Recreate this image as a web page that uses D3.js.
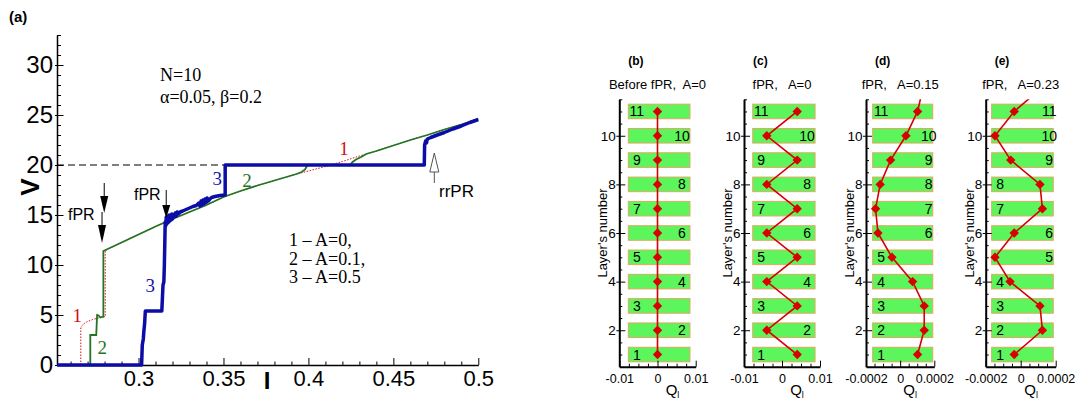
<!DOCTYPE html>
<html lang="en">
<head>
<meta charset="utf-8">
<title>V(I) curves and layer charges</title>
<script src="https://d3js.org/d3.v7.min.js"></script>
<style>
  body { margin: 0; background: #fff; }
  svg { display: block; }
  text { font-family: "Liberation Sans", Arial, sans-serif; }
</style>
</head>
<body>
<script>
// ---------- panel (a): V(I) curves ----------
var redI = [0.266, 0.266, 0.2665, 0.268, 0.270, 0.273, 0.2765, 0.2804, 0.2804, 0.29, 0.30, 0.31, 0.32, 0.33, 0.34, 0.35, 0.36, 0.37, 0.38, 0.39, 0.40, 0.41, 0.42, 0.43, 0.44, 0.45, 0.46, 0.47, 0.48, 0.49, 0.50]
var redV = [0, 3.7, 3.9, 4.15, 4.35, 4.55, 4.7, 4.85, 11.45, 12.25, 13.05, 13.85, 14.6, 15.3, 16.0, 16.8, 17.4, 17.95, 18.45, 18.95, 19.4, 19.85, 20.35, 20.9, 21.4, 21.95, 22.5, 23.0, 23.55, 24.05, 24.6]

var greenI = [0.252, 0.2716, 0.2716, 0.2751, 0.2756, 0.2765, 0.2775, 0.2793, 0.2793, 0.29, 0.30, 0.31, 0.32, 0.33, 0.34, 0.35, 0.36, 0.37, 0.38, 0.39, 0.393, 0.396, 0.398, 0.3995, 0.4245, 0.426, 0.428, 0.431, 0.434, 0.44, 0.45, 0.46, 0.47, 0.48, 0.49, 0.50]
var greenV = [0, 0, 3.0, 3.0, 5.0, 4.95, 4.75, 4.85, 11.4, 12.25, 13.05, 13.85, 14.6, 15.3, 16.0, 16.8, 17.4, 17.95, 18.45, 18.95, 19.1, 19.3, 19.55, 20, 20, 20.3, 20.55, 20.8, 21.1, 21.4, 21.95, 22.5, 23.0, 23.55, 24.05, 24.6]

var blueI = [0.252, 0.3018, 0.3022, 0.3028, 0.3031, 0.3036, 0.3040, 0.3137, 0.3140, 0.3144, 0.3149, 0.3152, 0.3157,
  0.3160, 0.3163, 0.3166, 0.3169, 0.3172, 0.3175, 0.3178, 0.3181, 0.3184, 0.3188, 0.3192, 0.3196, 0.3200, 0.3205, 0.3210, 0.3216, 0.3222, 0.3228, 0.3235, 0.3245,
  0.326, 0.328, 0.330, 0.332, 0.334, 0.3355, 0.3362, 0.3368, 0.3374, 0.3380, 0.3386, 0.3392, 0.3398, 0.3404, 0.3410, 0.3420, 0.343, 0.345, 0.348, 0.351,
  0.351, 0.4682, 0.4684, 0.469, 0.4695, 0.470, 0.472, 0.475, 0.48, 0.485, 0.49, 0.495, 0.50]
var blueV = [0, 0, 2.0, 2.6, 3.3, 4.2, 5.4, 5.4, 6.5, 8.0, 8.3, 10.0, 14.3,
  13.9, 14.8, 14.1, 14.9, 14.2, 14.7, 14.3, 15.0, 14.4, 14.9, 14.5, 15.1, 14.6, 15.0, 14.8, 15.2, 14.9, 15.3, 15.1, 15.3,
  15.4, 15.55, 15.7, 15.85, 15.95, 16.2, 15.9, 16.4, 16.0, 16.5, 16.1, 16.6, 16.25, 16.7, 16.4, 16.6, 16.75, 16.85, 16.95, 17.0,
  20, 20, 22.0, 22.4, 22.2, 22.6, 22.75, 22.95, 23.25, 23.6, 23.9, 24.25, 24.55]

var iMajor = [0.3, 0.35, 0.4, 0.45, 0.5]
var iLabels = ["0.3", "0.35", "0.4", "0.45", "0.5"]
var iMinor = [0.26, 0.27, 0.28, 0.29, 0.31, 0.32, 0.33, 0.34, 0.36, 0.37, 0.38, 0.39, 0.41, 0.42, 0.43, 0.44, 0.46, 0.47, 0.48, 0.49]
var vMajor = [0, 5, 10, 15, 20, 25, 30]
var vMinor = [1, 2, 3, 4, 6, 7, 8, 9, 11, 12, 13, 14, 16, 17, 18, 19, 21, 22, 23, 24, 26, 27, 28, 29, 31, 32, 33]

// ---------- panels (b)-(e): layer charges ----------
var layers = [1, 2, 3, 4, 5, 6, 7, 8, 9, 10, 11]
var qB = [0, 0, 0, 0, 0, 0, 0, 0, 0, 0, 0]
var qC = [0.004, -0.004, 0.004, -0.004, 0.004, -0.004, 0.004, -0.004, 0.004, -0.004, 0.004]
var qD = [0.000102, 0.000141, 0.000141, 0.000073, -0.000048, -0.00013, -0.000144, -0.000117, -0.000056, 0.000034, 0.000102]
var qE = [-0.000037, 0.000124, 0.00011, -0.000061, -0.000147, -0.000037, 0.000124, 0.00011, -0.000057, -0.000147, -0.000037]
var sideB = ["L", "R", "L", "R", "L", "R", "L", "R", "L", "R", "L"]
var sideC = ["L", "R", "L", "R", "L", "R", "L", "R", "L", "R", "L"]
var sideD = ["L", "L", "L", "L", "L", "R", "R", "R", "R", "R", "L"]
var sideE = ["L", "L", "L", "L", "R", "R", "L", "L", "R", "R", "R"]
var layerMajor = [2, 4, 6, 8, 10]
var layerMinor = [1, 1.5, 2.5, 3, 3.5, 4.5, 5, 5.5, 6.5, 7, 7.5, 8.5, 9, 9.5, 10.5, 11, 11.5]

var svg = d3.select("body").append("svg")
  .attr("width", 1078)
  .attr("height", 401)

var x = d3.scaleLinear().domain([0.252, 0.5]).range([57, 478.3])
var y = d3.scaleLinear().domain([0, 33]).range([365, 35])

function styleAxis(g, size) {
  g.attr("font-family", "'Liberation Sans', Arial, sans-serif").attr("font-size", size)
  g.selectAll("text").attr("fill", "#000")
  g.selectAll("line").attr("stroke", "#000")
}

// x axis of (a)
svg.append("g").attr("transform", "translate(0,365)")
  .call(d3.axisBottom(x).tickValues(iMinor).tickFormat("").tickSizeInner(-3.5).tickSizeOuter(0))
  .call(function(g) { g.select(".domain").remove() })
svg.append("g").attr("transform", "translate(0,365)")
  .call(d3.axisBottom(x).tickValues(iMajor).tickFormat(function(d, i) { return iLabels[i] })
    .tickSizeInner(-7).tickSizeOuter(0).tickPadding(5))
  .call(function(g) { styleAxis(g, 22); g.select(".domain").attr("stroke-width", 1.5) })

// y axis of (a)
svg.append("g").attr("transform", "translate(57,0)")
  .call(d3.axisLeft(y).tickValues(vMinor).tickFormat("").tickSizeInner(-4).tickSizeOuter(0))
  .call(function(g) { g.select(".domain").remove() })
svg.append("g").attr("transform", "translate(57,0)")
  .call(d3.axisLeft(y).tickValues(vMajor).tickFormat("").tickSizeInner(2).tickSizeOuter(0))
  .call(function(g) { g.select(".domain").remove() })
svg.append("g").attr("transform", "translate(57,0)")
  .call(d3.axisLeft(y).tickValues(vMajor).tickSizeInner(-6.5).tickSizeOuter(0).tickPadding(4))
  .call(function(g) { styleAxis(g, 24); g.select(".domain").attr("stroke-width", 1.5) })

// dashed V=20 guide
svg.append("line")
  .attr("x1", x(0.252)).attr("x2", x(0.36)).attr("y1", y(20)).attr("y2", y(20))
  .attr("stroke", "#000").attr("stroke-width", 1.2).attr("stroke-dasharray", "7,4")

var line = d3.line().x(function(d) { return x(d[0]) }).y(function(d) { return y(d[1]) })

svg.append("path").datum(d3.zip(redI, redV)).attr("d", line)
  .attr("fill", "none").attr("stroke", "#e01010").attr("stroke-width", 1).attr("stroke-dasharray", "1.5,1.5")
svg.append("path").datum(d3.zip(greenI, greenV)).attr("d", line)
  .attr("fill", "none").attr("stroke", "#237523").attr("stroke-width", 1.8)
svg.append("path").datum(d3.zip(blueI, blueV)).attr("d", line)
  .attr("fill", "none").attr("stroke", "#0c0ca6").attr("stroke-width", 3.5).attr("stroke-linejoin", "round")

// curve numbers
var curveTags = [
  {t: "1", i: 0.2639, v: 5.0, c: "#d01010"},
  {t: "1", i: 0.4209, v: 21.7, c: "#d01010"},
  {t: "2", i: 0.2787, v: 1.8, c: "#237523"},
  {t: "2", i: 0.3639, v: 18.5, c: "#237523"},
  {t: "3", i: 0.3463, v: 18.7, c: "#1414a8"},
  {t: "3", i: 0.3069, v: 8.0, c: "#1414a8"}
]
svg.selectAll(".tag").data(curveTags).enter().append("text")
  .attr("x", function(d) { return x(d.i) }).attr("y", function(d) { return y(d.v) })
  .attr("dy", "0.35em").attr("text-anchor", "middle")
  .style("font-family", "'Liberation Serif', 'Times New Roman', serif").style("font-size", "19px")
  .attr("fill", function(d) { return d.c })
  .text(function(d) { return d.t })

// fPR arrows (filled)
var fprArrows = [
  {i: 0.2798, top: 18.2, neck: 16.9, tip: 15.2},
  {i: 0.2785, top: 15.3, neck: 14.0, tip: 12.2},
  {i: 0.3163, top: 17.5, neck: 16.0, tip: 14.7}
]
fprArrows.forEach(function(a) {
  svg.append("line").attr("x1", x(a.i)).attr("x2", x(a.i)).attr("y1", y(a.top)).attr("y2", y(a.neck))
    .attr("stroke", "#000").attr("stroke-width", 1)
  svg.append("path")
    .attr("d", "M" + (x(a.i) - 4) + "," + y(a.neck) + "L" + (x(a.i) + 4) + "," + y(a.neck) + "L" + x(a.i) + "," + y(a.tip) + "Z")
    .attr("fill", "#000")
})
svg.append("text").attr("x", 68).attr("y", 220).style("font-size", "16px").text("fPR")
svg.append("text").attr("x", 134).attr("y", 200).style("font-size", "16px").text("fPR")

// rrPR arrow (open)
var rrI = 0.4741
svg.append("line").attr("x1", x(rrI)).attr("x2", x(rrI)).attr("y1", y(19.3)).attr("y2", y(18.2))
  .attr("stroke", "#555").attr("stroke-width", 1)
svg.append("path")
  .attr("d", "M" + (x(rrI) - 4.5) + "," + y(19.3) + "L" + (x(rrI) + 4.5) + "," + y(19.3) + "L" + x(rrI) + "," + y(21.2) + "Z")
  .attr("fill", "#fff").attr("stroke", "#555").attr("stroke-width", 1)
svg.append("text").attr("x", 439).attr("y", 197).style("font-size", "17px").text("rrPR")

// notes in (a)
var serif = "'Liberation Serif', 'Times New Roman', serif"
svg.append("text").attr("x", 160).attr("y", 81).style("font-family", serif).style("font-size", "18px").text("N=10")
svg.append("text").attr("x", 160).attr("y", 103).style("font-family", serif).style("font-size", "18px").text("α=0.05, β=0.2")
var legendLines = ["1 – A=0,", "2 – A=0.1,", "3 – A=0.5"]
svg.selectAll(".leg").data(legendLines).enter().append("text")
  .attr("x", 289).attr("y", function(d, i) { return 246 + i * 18.5 })
  .style("font-family", serif).style("font-size", "18px").text(function(d) { return d })

svg.append("text").attr("x", 9).attr("y", 22).style("font-size", "15px").style("font-weight", "bold").text("(a)")
svg.append("text").attr("transform", "translate(39,187) rotate(-90)").attr("text-anchor", "middle")
  .style("font-size", "26px").style("font-weight", "bold").text("V")
svg.append("text").attr("x", 267).attr("y", 389).attr("text-anchor", "middle")
  .style("font-size", "24px").style("font-weight", "bold").text("I")

// ---------- small panels ----------
var ly = d3.scaleLinear().domain([0.5, 11.5]).range([366.7, 99.3])

var panels = [
  {tag: "(b)", title: "Before fPR,  A=0", left: 619.3, right: 695.7, dom: [-0.01, 0.01], q: qB, side: sideB, above: null,
   major: [-0.01, 0, 0.01], labels: ["-0.01", "0", "0.01"], minor: [-0.0075, -0.005, -0.0025, 0.0025, 0.005, 0.0075], bar: [-0.00764, 0.0085], rOff: 8, qOff: 15},
  {tag: "(c)", title: "fPR,   A=0", left: 744, right: 820, dom: [-0.01, 0.01], q: qC, side: sideC, above: null,
   major: [-0.01, 0, 0.01], labels: ["-0.01", "0", "0.01"], minor: [-0.0075, -0.005, -0.0025, 0.0025, 0.005, 0.0075], bar: [-0.0077, 0.0087], rOff: 8, qOff: 15},
  {tag: "(d)", title: "fPR,   A=0.15", left: 866, right: 934.3, dom: [-0.0002, 0.0002], q: qD, side: sideD, above: 0.000135,
   major: [-0.0002, 0, 0.0002], labels: ["-0.0002", "0", "0.0002"], minor: [-0.00015, -0.0001, -0.00005, 0.00005, 0.0001, 0.00015], bar: [-0.000161, 0.000191], rOff: 4, qOff: 10},
  {tag: "(e)", title: "fPR,   A=0.23", left: 985.7, right: 1055.7, dom: [-0.0002, 0.0002], q: qE, side: sideE, above: 0.000124,
   major: [-0.0002, 0, 0.0002], labels: ["-0.0002", "0", "0.0002"], minor: [-0.00015, -0.0001, -0.00005, 0.00005, 0.0001, 0.00015], bar: [-0.000166, 0.000186], rOff: 4, qOff: 10.5}
]

panels.forEach(function(p, k) {
  var qx = d3.scaleLinear().domain(p.dom).range([p.left, p.right])
  var g = svg.append("g")
  var clipId = "clip" + k
  svg.append("clipPath").attr("id", clipId).append("rect")
    .attr("x", p.left - 10).attr("y", ly(11.5)).attr("width", p.right - p.left + 20).attr("height", ly(0.5) - ly(11.5))

  // layer bars
  g.selectAll(".bar").data(layers).enter().append("rect")
    .attr("x", qx(p.bar[0])).attr("width", qx(p.bar[1]) - qx(p.bar[0]))
    .attr("y", function(d) { return ly(d + 0.3) }).attr("height", ly(0) - ly(0.6))
    .attr("fill", "#5cf65c").attr("stroke", "#e0a860").attr("stroke-width", 1)
  g.selectAll(".num").data(layers).enter().append("text")
    .attr("x", function(d, i) { return p.side[i] == "L" ? qx(p.bar[0]) + 8.5 : qx(p.bar[1]) - p.rOff })
    .attr("y", function(d) { return ly(d) }).attr("dy", "0.36em").attr("text-anchor", "middle")
    .style("font-size", "14px").text(function(d) { return d })

  // axes
  g.append("g").attr("transform", "translate(0," + ly(0.5) + ")")
    .call(d3.axisBottom(qx).tickValues(p.minor).tickFormat("").tickSizeInner(-3).tickSizeOuter(0))
    .call(function(a) { a.select(".domain").remove() })
  g.append("g").attr("transform", "translate(0," + ly(0.5) + ")")
    .call(d3.axisBottom(qx).tickValues(p.major).tickFormat(function(d, i) { return p.labels[i] })
      .tickSizeInner(-6).tickSizeOuter(0).tickPadding(7))
    .call(function(a) { styleAxis(a, 12.5); a.select(".domain").attr("stroke-width", 2) })
  g.append("g").attr("transform", "translate(" + p.left + ",0)")
    .call(d3.axisLeft(ly).tickValues(layerMinor).tickFormat("").tickSizeInner(-3).tickSizeOuter(0))
    .call(function(a) { a.select(".domain").remove() })
  g.append("g").attr("transform", "translate(" + p.left + ",0)")
    .call(d3.axisLeft(ly).tickValues(layerMajor).tickFormat("").tickSizeInner(3).tickSizeOuter(0))
    .call(function(a) { a.select(".domain").remove() })
  g.append("g").attr("transform", "translate(" + p.left + ",0)")
    .call(d3.axisLeft(ly).tickValues(layerMajor).tickSizeInner(-6).tickSizeOuter(0).tickPadding(3.5))
    .call(function(a) { styleAxis(a, 13.5); a.select(".domain").attr("stroke-width", 2) })

  // Q profile
  var pts = layers.map(function(d, i) { return [p.q[i], d] })
  var linePts = p.above === null ? pts : pts.concat([[p.above, 12]])
  g.append("path").datum(linePts)
    .attr("clip-path", "url(#" + clipId + ")")
    .attr("d", d3.line().x(function(d) { return qx(d[0]) }).y(function(d) { return ly(d[1]) }))
    .attr("fill", "none").attr("stroke", "#d80000").attr("stroke-width", 1.6)
  g.selectAll(".mk").data(pts).enter().append("path")
    .attr("d", d3.symbol().type(d3.symbolSquare).size(44))
    .attr("transform", function(d) { return "translate(" + qx(d[0]) + "," + ly(d[1]) + ") rotate(45)" })
    .attr("fill", "#d80000")

  // texts
  var mid = (p.left + p.right) / 2
  g.append("text").attr("x", p.left + 9).attr("y", 65).style("font-size", "12px").style("font-weight", "bold").text(p.tag)
  g.append("text").attr("x", mid).attr("y", 89).attr("text-anchor", "middle")
    .style("font-size", "13px").style("white-space", "pre").text(p.title)
  g.append("text").attr("transform", "translate(" + (p.left - 12) + ",233) rotate(-90)").attr("text-anchor", "middle")
    .style("font-size", "13px").text("Layer's number")
  var ql = g.append("text").attr("x", mid + p.qOff).attr("y", 395).attr("text-anchor", "middle").style("font-size", "15px")
  ql.append("tspan").text("Q")
  ql.append("tspan").attr("dy", 3).style("font-size", "9px").text("l")
})
</script>
</body>
</html>
